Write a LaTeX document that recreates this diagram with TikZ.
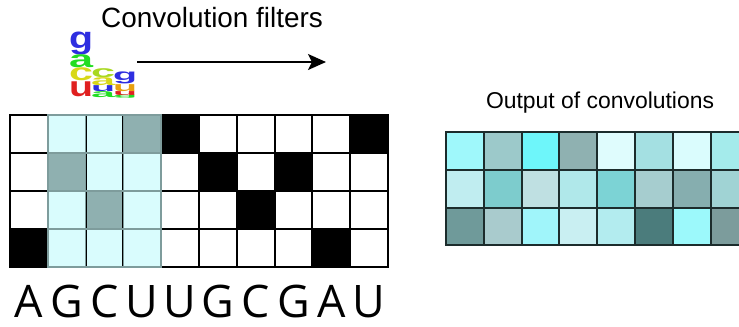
\documentclass[tikz,border=0pt]{standalone}
\usepackage{fontspec}
\setmainfont{Liberation Sans}
\newfontfamily\seqfont{Open Sans}
\usepackage{xcolor}
\usepackage{graphicx}
\usetikzlibrary{arrows.meta,positioning}
\definecolor{filtercyan}{HTML}{D9FCFD}
\definecolor{filterteal}{HTML}{8FB0B0}
\definecolor{filterline}{HTML}{7E9C9C}
\definecolor{outline}{HTML}{1C2C2C}
\definecolor{logoblue}{HTML}{2E2EE0}
\definecolor{logogreen}{HTML}{22DD22}
\definecolor{logoyellow}{HTML}{D8D818}
\definecolor{logolime}{HTML}{A8D820}
\definecolor{logoorange}{HTML}{E8A010}
\definecolor{logored}{HTML}{E02020}
% one stacked letter of the filter logo: name, colour, x, top y, height, letter
\newcommand{\logoletter}[6]{
    \node[inner sep=0pt, anchor=north west, text=#2] (#1) at (#3,#4)
        {\resizebox*{24bp}{#5bp}{\bfseries #6}};
}
% one cell of the output map: row, column, colour
\newcommand{\outcell}[3]{
    \definecolor{cellc}{HTML}{#3}
    \node[outbox, fill=cellc] (out-#1-#2) at ({446+37.8*(#2+0.5)},{132+37.8*(#1+0.5)}) {};
}

\begin{document}
\begin{tikzpicture}[x=1bp,y=-1bp,>=Stealth,
    inbox/.style={draw=black, line width=2bp, minimum width=37.8bp, minimum height=38bp, inner sep=0pt},
    outbox/.style={draw=outline, line width=2bp, minimum width=37.8bp, minimum height=37.8bp, inner sep=0pt}]
    \useasboundingbox (0,0) rectangle (739,326);
    \clip (0,0) rectangle (739,326);

    % one-hot input, rows U G C A
    \foreach \rowbase [count=\row from 0] in {U,G,C,A} {
        \foreach \base [count=\col from 0] in {A,G,C,U,U,G,C,G,A,U} {
            \ifx\base\rowbase \def\cellfill{black}\else \def\cellfill{white}\fi
            \ifnum\col>0 \ifnum\col<4
                \ifx\base\rowbase \def\cellfill{filterteal}\else \def\cellfill{filtercyan}\fi
            \fi\fi
            \node[inbox, fill=\cellfill] (in-\row-\col) at ({10+37.8*(\col+0.5)},{115+38*(\row+0.5)}) {};
        }
    }
    % filter window
    \foreach \row in {0,...,3} {
        \foreach \col in {1,2,3} {
            \node[inbox, draw=filterline, line width=1.5bp] at (in-\row-\col) {};
        }
    }

    % sequence
    \foreach \base [count=\col from 0] in {A,G,C,U,U,G,C,G,A,U} {
        \node[anchor=base, inner sep=0pt, font=\seqfont\fontsize{45}{45}\selectfont] (seq-\col) at ({10+37.8*(\col+0.5)},317) {\base};
    }

    % filter logo
    \logoletter{lg1}{logoblue}{69}{32}{23}{g}
    \logoletter{la1}{logogreen}{69}{55}{13}{a}
    \logoletter{lc1}{logoyellow}{69}{68}{13}{c}
    \logoletter{lu1}{logored}{69}{82}{15}{u}
    \logoletter{lc2}{logolime}{91}{68}{9}{c}
    \logoletter{la2}{logoyellow}{91}{77}{8}{a}
    \logoletter{lu2}{logoblue}{91}{85}{6}{u}
    \logoletter{la2b}{logogreen}{91}{91}{6}{a}
    \logoletter{lg3}{logoblue}{113}{72}{12}{g}
    \logoletter{lu3}{logoorange}{113}{84}{7}{u}
    \logoletter{lu3b}{logored}{113}{91}{4}{u}
    \logoletter{lg3b}{logogreen}{113}{95}{3}{g}

    \node[anchor=base west, inner sep=0pt, font=\fontsize{28}{30}\selectfont] (filtertitle) at (101,27) {Convolution filters};
    \coordinate (slidefrom) at (137,62);
    \coordinate (slideto) at (326,62);
    \draw[-{Stealth[length=18bp,width=16bp,inset=4bp]}, line width=1.6bp] (slidefrom) -- (slideto);

    % output of convolutions
    \node[anchor=base, inner sep=0pt, font=\fontsize{23}{25}\selectfont] (outtitle) at (600,108) {Output of convolutions};
    \foreach \hex [count=\col from 0] in {9FF8FB,9CC9CA,6EF6FA,8FB1B1,DFFCFD,A4E0E2,DAFCFD,A4EBEB} {\outcell{0}{\col}{\hex}}
    \foreach \hex [count=\col from 0] in {C0EDF0,7DCCCD,BFE0E2,B0E8EA,7CD3D5,A6CDCF,86AEAF,A0D3D4} {\outcell{1}{\col}{\hex}}
    \foreach \hex [count=\col from 0] in {6F9A9A,A9CBCD,A0F5FA,C9EFF2,B3ECEF,4B7C7C,9CF9FB,7C9C9C} {\outcell{2}{\col}{\hex}}
\end{tikzpicture}
\end{document}
